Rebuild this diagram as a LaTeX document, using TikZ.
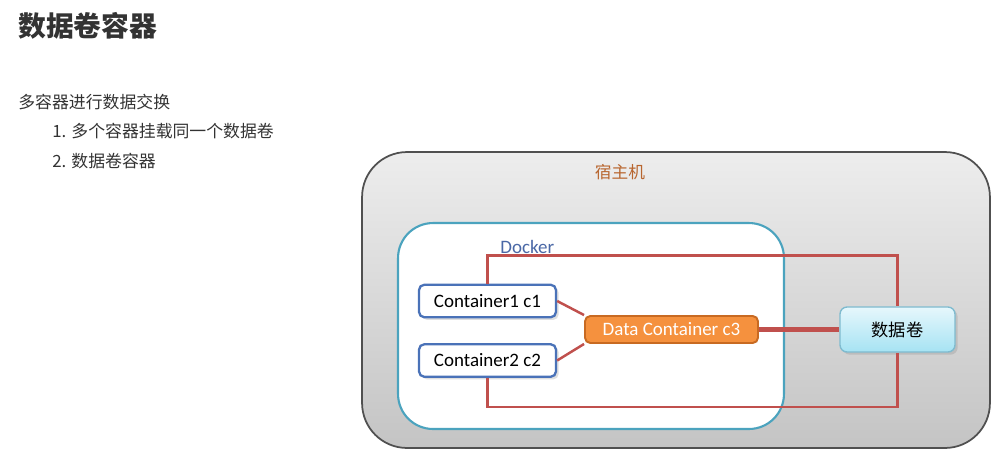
\documentclass[tikz,border=0pt]{standalone}
\usepackage{fontspec}
\setmainfont{Carlito}
\newfontfamily\cjk{Noto Sans CJK SC}
\usetikzlibrary{positioning,shadows}
\definecolor{textgray}{HTML}{333333}
\definecolor{hostline}{HTML}{505050}
\definecolor{hosttop}{HTML}{EDEDED}
\definecolor{hostbot}{HTML}{C4C4C4}
\definecolor{hostlabel}{HTML}{B8652E}
\definecolor{dockline}{HTML}{4BA3BE}
\definecolor{docklabel}{HTML}{4A68A6}
\definecolor{boxblue}{HTML}{4A72B8}
\definecolor{dataorange}{HTML}{F5913E}
\definecolor{dataline}{HTML}{C86A22}
\definecolor{voltop}{HTML}{E6F7FC}
\definecolor{volbot}{HTML}{A6E3F3}
\definecolor{volline}{HTML}{7FBBCF}
\definecolor{linkred}{HTML}{C0504D}
\tikzset{
  hostbox/.style={draw=hostline, line width=1pt, rounded corners=0.9cm,
    top color=hosttop, bottom color=hostbot, inner sep=0pt},
  dockbox/.style={draw=dockline, line width=1.2pt, rounded corners=0.7cm,
    fill=white, inner sep=0pt},
  container/.style={draw=boxblue, line width=1.3pt, fill=white,
    rounded corners=3pt, minimum width=2.74cm, minimum height=0.65cm,
    font=\fontsize{10.8}{12}\selectfont, text=black,
    drop shadow={opacity=0.25, shadow xshift=1.5pt, shadow yshift=-1.5pt}},
  datacont/.style={draw=dataline, line width=1.1pt, fill=dataorange,
    rounded corners=3pt, minimum width=3.46cm, minimum height=0.54cm,
    font=\fontsize{10.8}{12}\selectfont, text=white},
  volume/.style={draw=volline, line width=0.8pt, top color=voltop,
    bottom color=volbot, rounded corners=4pt, minimum width=2.3cm,
    minimum height=0.9cm, font=\cjk\fontsize{9.8}{11}\selectfont,
    drop shadow={opacity=0.25, shadow xshift=1.5pt, shadow yshift=-1.5pt}},
  link/.style={draw=linkred, line width=1.4pt},
}

\begin{document}
\begin{tikzpicture}[x=0.02cm, y=-0.02cm]
\useasboundingbox (0,0) rectangle (998,458);
% Slide text on the left
\node[anchor=west, inner sep=0pt, text=textgray, font=\cjk\bfseries\fontsize{15.8}{18}\selectfont]
  (title) at (18,26) {数据卷容器};
\node[anchor=west, inner sep=0pt, text=textgray, font=\cjk\fontsize{9.6}{11}\selectfont]
  (intro) at (18,102) {多容器进行数据交换};
\node[anchor=west, inner sep=0pt, text=textgray, font=\cjk\fontsize{9.6}{11}\selectfont]
  (item1) at (52,131) {1. 多个容器挂载同一个数据卷};
\node[anchor=west, inner sep=0pt, text=textgray, font=\cjk\fontsize{9.6}{11}\selectfont]
  (item2) at (52,161) {2. 数据卷容器};
% Host and Docker frames
\node[hostbox, minimum width=12.56cm, minimum height=5.92cm] (host) at (676,300) {};
\node[text=hostlabel, font=\cjk\fontsize{9.5}{11}\selectfont] (hostlbl) at (620,172) {宿主机};
\node[dockbox, minimum width=7.72cm, minimum height=4.12cm] (docker) at (591,326) {};
\node[anchor=west, inner sep=0pt, text=docklabel, font=\fontsize{10.8}{12}\selectfont]
  (docklbl) at (500,247) {Docker};
% Containers and the volume
\node[container] (c1) at (487.5,301) {Container1 c1};
\node[container] (c2) at (487.5,360.5) {Container2 c2};
\node[datacont] (c3) at (671.5,329.5) {Data Container c3};
\node[volume] (vol) at (897.5,329.5) {数据卷};
% Mount lines
\draw[link] (c1.north) -- ++(0,-28) -| (vol.north);
\draw[link] (c2.south) -- ++(0,29) -| (vol.south);
\draw[link] (c1.east) -- (c3.north west);
\draw[link] (c2.east) -- (c3.south west);
\draw[link, line width=2.8pt] (c3.east) -- (vol.west);
\end{tikzpicture}
\end{document}
